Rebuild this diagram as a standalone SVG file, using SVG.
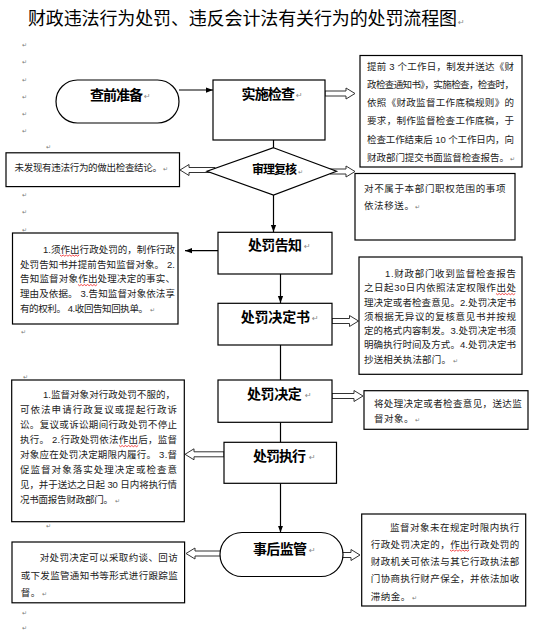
<svg xmlns="http://www.w3.org/2000/svg" width="541" height="631" viewBox="0 0 541 631">
<style>
.box{fill:#fff;stroke:#000;stroke-width:1.2}
.t{font-family:"Liberation Sans","Noto Sans CJK SC",sans-serif;font-size:9.5px;fill:#222}
.lbl{font-family:"Noto Sans CJK SC",sans-serif;font-weight:bold;font-size:14px;fill:#000}
.ttl{font-family:"Noto Sans CJK SC",sans-serif;font-size:18px;fill:#000}
.pm{font-family:"DejaVu Sans",sans-serif;font-size:8px;fill:#888}
.pm2{font-family:"DejaVu Sans",sans-serif;font-size:6px;fill:#777}
.ln{stroke:#000;stroke-width:1.2;fill:none}
.ha{fill:#fff;stroke:#333;stroke-width:1}
.sq{stroke:#e00;stroke-width:0.7;fill:none}
</style>
<defs>
<marker id="ah" viewBox="0 0 8 8" refX="8" refY="4" markerWidth="7" markerHeight="7" markerUnits="userSpaceOnUse" orient="auto"><path d="M0,1 L8,4 L0,7 z" fill="#000"/></marker>
</defs>

<text class="ttl" x="28" y="25" textLength="429" lengthAdjust="spacing">财政违法行为处罚、违反会计法有关行为的处罚流程图</text>
<text class="pm" x="458" y="25">↵</text>

<g id="margin-marks">
<text class="pm2" x="22" y="47">↵</text>
<text class="pm2" x="22" y="64">↵</text>
<text class="pm2" x="22" y="82">↵</text>
<text class="pm2" x="22" y="99">↵</text>
<text class="pm2" x="22" y="116">↵</text>
<text class="pm2" x="22" y="133">↵</text>
<text class="pm2" x="46" y="149">↵</text>
<text class="pm2" x="22" y="197">↵</text>
<text class="pm2" x="22" y="214">↵</text>
<text class="pm2" x="22" y="232">↵</text>
<text class="pm2" x="21" y="334">↵</text>
<text class="pm2" x="23" y="379">↵</text>
<text class="pm2" x="46" y="528">↵</text>
<text class="pm2" x="22" y="615">↵</text>
<text class="pm2" x="22" y="630">↵</text>
</g>

<g id="connectors">
<line class="ln" x1="179" y1="90" x2="213" y2="90" marker-end="url(#ah)"/>
<line class="ln" x1="273.5" y1="140" x2="273.5" y2="148"/>
<line class="ln" x1="273.5" y1="195" x2="273.5" y2="232" marker-end="url(#ah)"/>
<line class="ln" x1="218" y1="250.7" x2="185" y2="250.7" marker-end="url(#ah)"/>
<line class="ln" x1="280.5" y1="274" x2="280.5" y2="303" marker-end="url(#ah)"/>
<line class="ln" x1="280.5" y1="345" x2="280.5" y2="380"/>
<line class="ln" x1="280.5" y1="422.3" x2="280.5" y2="442.3"/>
<line class="ln" x1="280.5" y1="483.3" x2="280.5" y2="532.5" marker-end="url(#ah)"/>
<polygon class="ha" points="325,91 346,91 346,88 355,93.5 346,99 346,96 325,96"/>
<polygon class="ha" points="215,167.5 189,167.5 189,164.5 180,170 189,175.5 189,172.5 215,172.5"/>
<polygon class="ha" points="330,169 346,169 346,166 355,171.5 346,177 346,174 330,174"/>
<polygon class="ha" points="332,318.5 349.5,318.5 349.5,315.5 358.5,321 349.5,326.5 349.5,323.5 332,323.5"/>
<polygon class="ha" points="332,393.5 354,393.5 354,390.5 363,396 354,401.5 354,398.5 332,398.5"/>
<polygon class="ha" points="224,451.8 194,451.8 194,448.8 185,454.3 194,459.8 194,456.8 224,456.8"/>
<polygon class="ha" points="224,551 195,551 195,548 186,553.5 195,559 195,556 224,556"/>
<polygon class="ha" points="339,552.5 351,552.5 351,549.5 360,555 351,560.5 351,557.5 339,557.5"/>
</g>

<g id="n-prep">
<rect class="box" x="56" y="80" width="123" height="43" rx="21.5" ry="21.5"/>
<text class="lbl" x="90" y="100.3" textLength="53" lengthAdjust="spacing">查前准备</text>
<text class="pm" x="144" y="99">↵</text>
</g>

<g id="n-inspect">
<rect class="box" x="213" y="80" width="112" height="60"/>
<text class="lbl" x="241.5" y="98.8" textLength="53.5" lengthAdjust="spacing">实施检查</text>
<text class="pm" x="296" y="98">↵</text>
</g>

<g id="n-inspect-note">
<rect class="box" x="360" y="55.5" width="162" height="111.5"/>
<text class="t" x="367" y="69.5" textLength="147" lengthAdjust="spacing">提前 3 个工作日，制发并送达《财</text>
<text class="t" x="367" y="87.8" textLength="147" lengthAdjust="spacing">政检查通知书》，实施检查，检查时，</text>
<text class="t" x="367" y="106.1" textLength="147" lengthAdjust="spacing">依照《财政监督工作底稿规则》的</text>
<text class="t" x="367" y="124.4" textLength="147" lengthAdjust="spacing">要求，制作监督检查工作底稿，于</text>
<text class="t" x="367" y="142.7" textLength="147" lengthAdjust="spacing">检查工作结束后 10 个工作日内，向</text>
<text class="t" x="367" y="161" textLength="142" lengthAdjust="spacing">财政部门提交书面监督检查报告。</text>
<text class="pm2" x="510" y="161">↵</text>
</g>

<g id="n-review">
<polygon class="box" points="273.5,147.7 336.5,171.3 273.5,195 207,171.3"/>
<text class="lbl" style="font-size:12px" x="252" y="174" textLength="45" lengthAdjust="spacing">审理复核</text>
<text class="pm2" x="298" y="174">↵</text>
</g>

<g id="n-no-violation">
<rect class="box" x="6" y="152.8" width="173.5" height="33.8"/>
<text class="t" x="14.5" y="171.2" textLength="147.5" lengthAdjust="spacing">未发现有违法行为的做出检查结论。</text>
<text class="pm2" x="163" y="171">↵</text>
</g>

<g id="n-transfer">
<rect class="box" x="355" y="173.5" width="160" height="66.5"/>
<text class="t" x="364" y="191.9" textLength="141.5" lengthAdjust="spacing">对不属于本部门职权范围的事项</text>
<text class="t" x="364" y="209.2" textLength="50" lengthAdjust="spacing">依法移送。</text>
<text class="pm2" x="415" y="209">↵</text>
</g>

<g id="n-notice">
<rect class="box" x="218" y="232.3" width="114" height="41.7"/>
<text class="lbl" x="248" y="250.3" textLength="54" lengthAdjust="spacing">处罚告知</text>
<text class="pm" x="304" y="249">↵</text>
</g>

<g id="n-notice-note">
<rect class="box" x="12.5" y="233" width="165.5" height="91"/>
<text class="t" x="43" y="252.9" textLength="132" lengthAdjust="spacing">1.须作出行政处罚的，制作行政</text>
<text class="t" x="20" y="267.6" textLength="155" lengthAdjust="spacing">处罚告知书并提前告知监督对象。 2.</text>
<text class="t" x="20" y="282.3" textLength="155" lengthAdjust="spacing">告知监督对象作出处理决定的事实、</text>
<text class="t" x="20" y="296.9" textLength="155" lengthAdjust="spacing">理由及依据。 3.告知监督对象依法享</text>
<text class="t" x="20" y="311.6" textLength="128" lengthAdjust="spacing">有的权利。 4.收回告知回执单。</text>
<text class="pm2" x="150" y="311.6">↵</text>
<path class="sq" d="M60,255 l1.6,1.2 l1.6,-1.2 l1.6,1.2 l1.6,-1.2 l1.6,1.2 l1.6,-1.2 l1.6,1.2 l1.6,-1.2 l1.6,1.2 l1.6,-1.2 l1.6,1.2 l1.6,-1.2"/>
<path class="sq" d="M78,284.5 l1.6,1.2 l1.6,-1.2 l1.6,1.2 l1.6,-1.2 l1.6,1.2 l1.6,-1.2 l1.6,1.2 l1.6,-1.2 l1.6,1.2 l1.6,-1.2 l1.6,1.2 l1.6,-1.2"/>
</g>

<g id="n-decision-doc">
<rect class="box" x="218" y="303.3" width="114" height="41.7"/>
<text class="lbl" x="240.7" y="322" textLength="69.3" lengthAdjust="spacing">处罚决定书</text>
<text class="pm" x="312" y="321">↵</text>
</g>

<g id="n-decision-doc-note">
<rect class="box" x="359" y="257" width="163" height="117.3"/>
<text class="t" x="385" y="276.9" textLength="131" lengthAdjust="spacing">1.财政部门收到监督检查报告</text>
<text class="t" x="364" y="291.2" textLength="152" lengthAdjust="spacing">之日起30日内依照法定权限作出处</text>
<text class="t" x="364" y="305.5" textLength="152" lengthAdjust="spacing">理决定或者检查意见。2.处罚决定书</text>
<text class="t" x="364" y="319.8" textLength="152" lengthAdjust="spacing">须根据无异议的复核意见书并按规</text>
<text class="t" x="364" y="334.1" textLength="152" lengthAdjust="spacing">定的格式内容制发。3.处罚决定书须</text>
<text class="t" x="364" y="348.4" textLength="152" lengthAdjust="spacing">明确执行时间及方式。4.处罚决定书</text>
<text class="t" x="364" y="362.7" textLength="87" lengthAdjust="spacing">抄送相关执法部门。</text>
<text class="pm2" x="453" y="362.7">↵</text>
<path class="sq" d="M496,293.5 l1.6,1.2 l1.6,-1.2 l1.6,1.2 l1.6,-1.2 l1.6,1.2 l1.6,-1.2 l1.6,1.2 l1.6,-1.2 l1.6,1.2 l1.6,-1.2 l1.6,1.2 l1.6,-1.2"/>
</g>

<g id="n-decision">
<rect class="box" x="218" y="380" width="114" height="42.3"/>
<text class="lbl" x="247" y="398.6" textLength="54.7" lengthAdjust="spacing">处罚决定</text>
<text class="pm" x="305" y="398">↵</text>
</g>

<g id="n-decision-note">
<rect class="box" x="364" y="390.7" width="164" height="38.6"/>
<text class="t" x="374" y="406.9" textLength="147.7" lengthAdjust="spacing">将处理决定或者检查意见，送达监</text>
<text class="t" x="374" y="421.9" textLength="39.4" lengthAdjust="spacing">督对象。</text>
<text class="pm2" x="415" y="421.9">↵</text>
</g>

<g id="n-execute">
<rect class="box" x="224" y="442.3" width="112.5" height="41"/>
<text class="lbl" x="253" y="461.3" textLength="53" lengthAdjust="spacing">处罚执行</text>
<text class="pm" x="309" y="460">↵</text>
</g>

<g id="n-execute-note">
<rect class="box" x="11.7" y="380" width="172.6" height="141.7"/>
<text class="t" x="43" y="398.3" textLength="132" lengthAdjust="spacing">1.监督对象对行政处罚不服的，</text>
<text class="t" x="20" y="413.3" textLength="157" lengthAdjust="spacing">可依法申请行政复议或提起行政诉</text>
<text class="t" x="20" y="428.3" textLength="157" lengthAdjust="spacing">讼。复议或诉讼期间行政处罚不停止</text>
<text class="t" x="20" y="443.3" textLength="157" lengthAdjust="spacing">执行。 2.行政处罚依法作出后，监督</text>
<text class="t" x="20" y="458.3" textLength="157" lengthAdjust="spacing">对象应在处罚决定期限内履行。 3.督</text>
<text class="t" x="20" y="473.3" textLength="157" lengthAdjust="spacing">促监督对象落实处理决定或检查意</text>
<text class="t" x="20" y="488.3" textLength="157" lengthAdjust="spacing">见，并于送达之日起 30 日内将执行情</text>
<text class="t" x="20" y="503.3" textLength="93" lengthAdjust="spacing">况书面报告财政部门。</text>
<text class="pm2" x="115" y="503.3">↵</text>
<path class="sq" d="M119,445.5 l1.6,1.2 l1.6,-1.2 l1.6,1.2 l1.6,-1.2 l1.6,1.2 l1.6,-1.2 l1.6,1.2 l1.6,-1.2 l1.6,1.2 l1.6,-1.2 l1.6,1.2 l1.6,-1.2"/>
</g>

<g id="n-supervise">
<rect class="box" x="220" y="532.5" width="123" height="44" rx="22" ry="22"/>
<text class="lbl" x="253" y="553.8" textLength="54" lengthAdjust="spacing">事后监管</text>
<text class="pm" x="309" y="553">↵</text>
</g>

<g id="n-supervise-left">
<rect class="box" x="12" y="542" width="172.6" height="60.8"/>
<text class="t" x="39.7" y="560.6" textLength="138" lengthAdjust="spacing">对处罚决定可以采取约谈、回访</text>
<text class="t" x="20.7" y="578.6" textLength="157" lengthAdjust="spacing">或下发监管通知书等形式进行跟踪监</text>
<text class="t" x="20.7" y="596.1" textLength="19.6" lengthAdjust="spacing">督。</text>
<text class="pm2" x="42" y="596.1">↵</text>
</g>

<g id="n-supervise-right">
<rect class="box" x="361.7" y="514" width="164" height="92"/>
<text class="t" x="390" y="530.9" textLength="129.3" lengthAdjust="spacing">监督对象未在规定时限内执行</text>
<text class="t" x="370.7" y="547.9" textLength="148.6" lengthAdjust="spacing">行政处罚决定的，作出行政处罚的</text>
<text class="t" x="370.7" y="565.3" textLength="148.6" lengthAdjust="spacing">财政机关可依法与其它行政执法部</text>
<text class="t" x="370.7" y="581.9" textLength="148.6" lengthAdjust="spacing">门协商执行财产保全，并依法加收</text>
<text class="t" x="370.7" y="599.6" textLength="39.6" lengthAdjust="spacing">滞纳金。</text>
<text class="pm2" x="412" y="599.6">↵</text>
<path class="sq" d="M450,550 l1.6,1.2 l1.6,-1.2 l1.6,1.2 l1.6,-1.2 l1.6,1.2 l1.6,-1.2 l1.6,1.2 l1.6,-1.2 l1.6,1.2 l1.6,-1.2 l1.6,1.2 l1.6,-1.2"/>
</g>
</svg>
